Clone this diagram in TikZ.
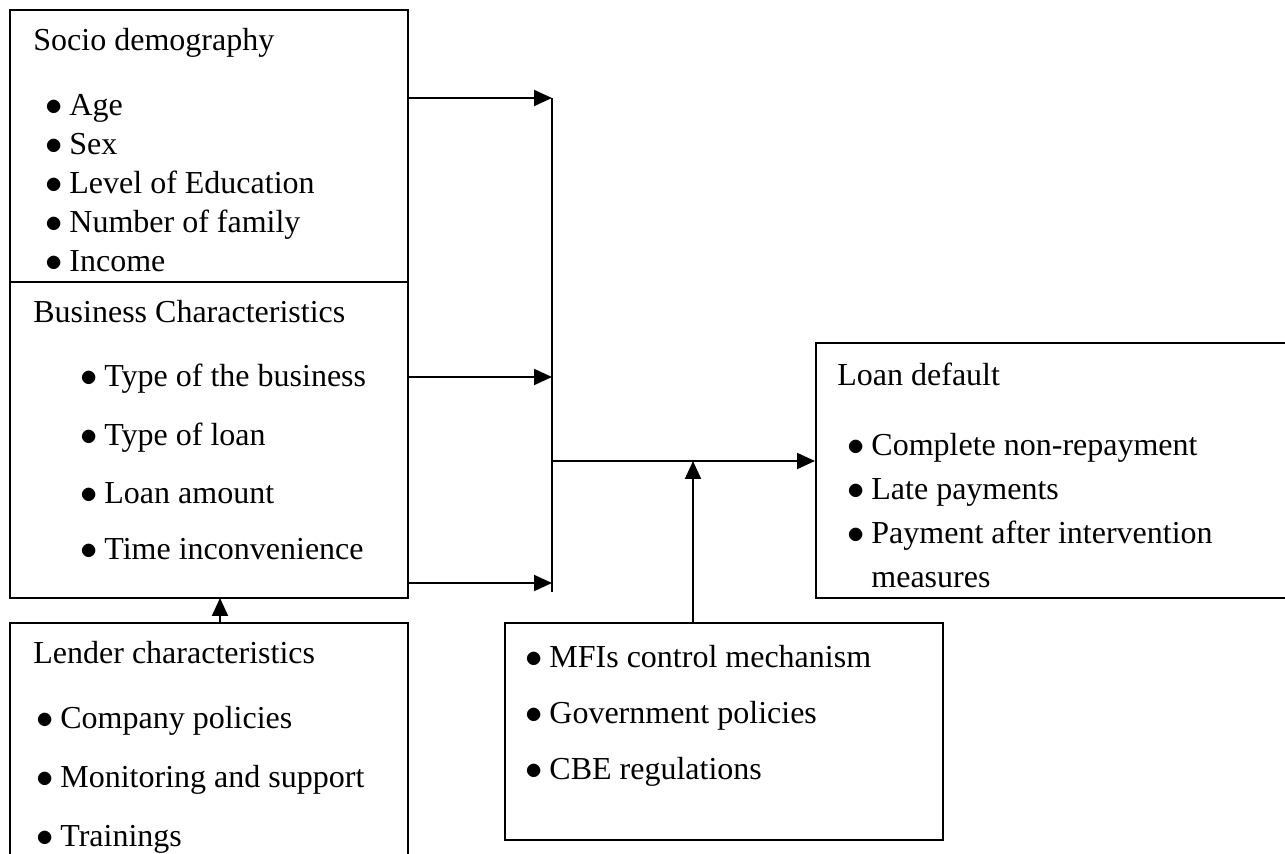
\documentclass[tikz,border=0pt]{standalone}
\usepackage{fontspec}
\setmainfont{Liberation Serif}
\usetikzlibrary{arrows.meta, fit}
\newcommand{\itm}[1]{\makebox[12pt][l]{$\bullet$}#1}

\begin{document}
\begin{tikzpicture}[x=0.5pt, y=-0.5pt,
    box/.style={draw, line width=1pt, inner sep=0pt},
    txt/.style={anchor=base west, inner sep=0pt, font=\fontsize{16}{19}\selectfont},
    arr/.style={line width=1pt, -{Triangle[length=9pt, width=8pt]}},
    ln/.style={line width=1pt}]
    \useasboundingbox (0,0) rectangle (1285,854);

    % Boxes
    \node[box, fit={(10,10) (408,282)}] (socio) {};
    \node[box, fit={(10,282) (408,598)}] (business) {};
    \node[box, fit={(10,623) (408,900)}] (lender) {};
    \node[box, fit={(505,623) (943,840)}] (mfi) {};
    \node[box, fit={(816,343) (1310,598)}] (loan) {};

    % Socio demography
    \node[txt] (socioT) at (33,51) {Socio demography};
    \node[txt] (age) at (45,116) {\itm{Age}};
    \node[txt] (sex) at (45,155) {\itm{Sex}};
    \node[txt] (edu) at (45,194) {\itm{Level of Education}};
    \node[txt] (fam) at (45,233) {\itm{Number of family}};
    \node[txt] (inc) at (45,272) {\itm{Income}};

    % Business characteristics
    \node[txt] (busT) at (33,323) {Business Characteristics};
    \node[txt] (type) at (80,387) {\itm{Type of the business}};
    \node[txt] (ltype) at (80,446) {\itm{Type of loan}};
    \node[txt] (amt) at (80,504) {\itm{Loan amount}};
    \node[txt] (time) at (80,560) {\itm{Time inconvenience}};

    % Lender characteristics
    \node[txt] (lendT) at (33,664) {Lender characteristics};
    \node[txt] (pol) at (36,729) {\itm{Company policies}};
    \node[txt] (mon) at (36,788) {\itm{Monitoring and support}};
    \node[txt] (trn) at (36,846) {\itm{Trainings}};

    % Control factors
    \node[txt] (ctrl) at (525,668) {\itm{MFIs control mechanism}};
    \node[txt] (gov) at (525,724) {\itm{Government policies}};
    \node[txt] (cbe) at (525,780) {\itm{CBE regulations}};

    % Loan default
    \node[txt] (loanT) at (837,386) {Loan default};
    \node[txt] (nonrep) at (847,456) {\itm{Complete non-repayment}};
    \node[txt] (late) at (847,500) {\itm{Late payments}};
    \node[txt] (after) at (847,544) {\itm{Payment after intervention}};
    \node[txt] (meas) at (871,588) {measures};

    % Collecting line
    \coordinate (top) at (552,98);
    \coordinate (mid) at (552,377);
    \coordinate (low) at (552,583);
    \coordinate (end) at (552,592);
    \coordinate (join) at (552,461);
    \coordinate (mj) at (693,461);
    \coordinate (lj) at (220,598);

    \draw[ln] (top) -- (end);
    \draw[arr] (top -| socio.east) -- (top);
    \draw[arr] (mid -| business.east) -- (mid);
    \draw[arr] (low -| business.east) -- (low);
    \draw[arr] (join) -- (join -| loan.west);
    \draw[arr] (mj |- mfi.north) -- (mj);
    \draw[arr] (lj |- lender.north) -- (lj);
\end{tikzpicture}
\end{document}
